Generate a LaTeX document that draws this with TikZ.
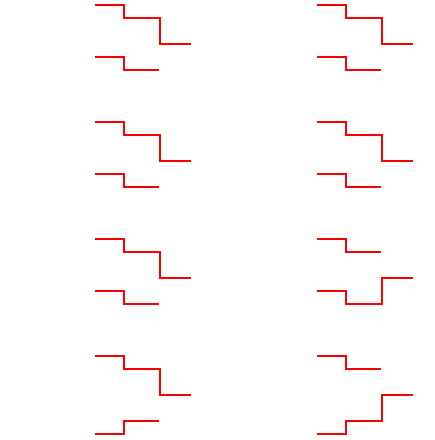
\documentclass[tikz,border=0pt]{standalone}
\tikzset{trace/.style={draw=red,line width=1.6pt,line join=miter,line cap=butt}}
\begin{document}
\begin{tikzpicture}[x=1pt,y=-1pt]
\useasboundingbox (0,0) rectangle (435,440);
% left column
\foreach \r in {0,117,234,351}{
  \draw[trace] (95,5+\r) -| (124,18+\r) -| (160,43.7+\r) -- (191,43.7+\r);
}
\foreach \r in {0,117,234}{
  \draw[trace] (95,57+\r) -| (124,70+\r) -- (159,70+\r);
}
\draw[trace] (95,434) -| (124,421) -- (159,421);
% right column
\foreach \r in {0,117}{
  \draw[trace] (317,5+\r) -| (346,18+\r) -| (382,43.7+\r) -- (413,43.7+\r);
  \draw[trace] (317,57+\r) -| (346,70+\r) -- (381,70+\r);
}
\foreach \r in {234,351}{
  \draw[trace] (317,5+\r) -| (346,18+\r) -- (381,18+\r);
}
\draw[trace] (317,291) -| (346,304) -| (382,278) -- (413,278);
\draw[trace] (317,434) -| (346,421) -| (382,395) -- (413,395);
\end{tikzpicture}
\end{document}
